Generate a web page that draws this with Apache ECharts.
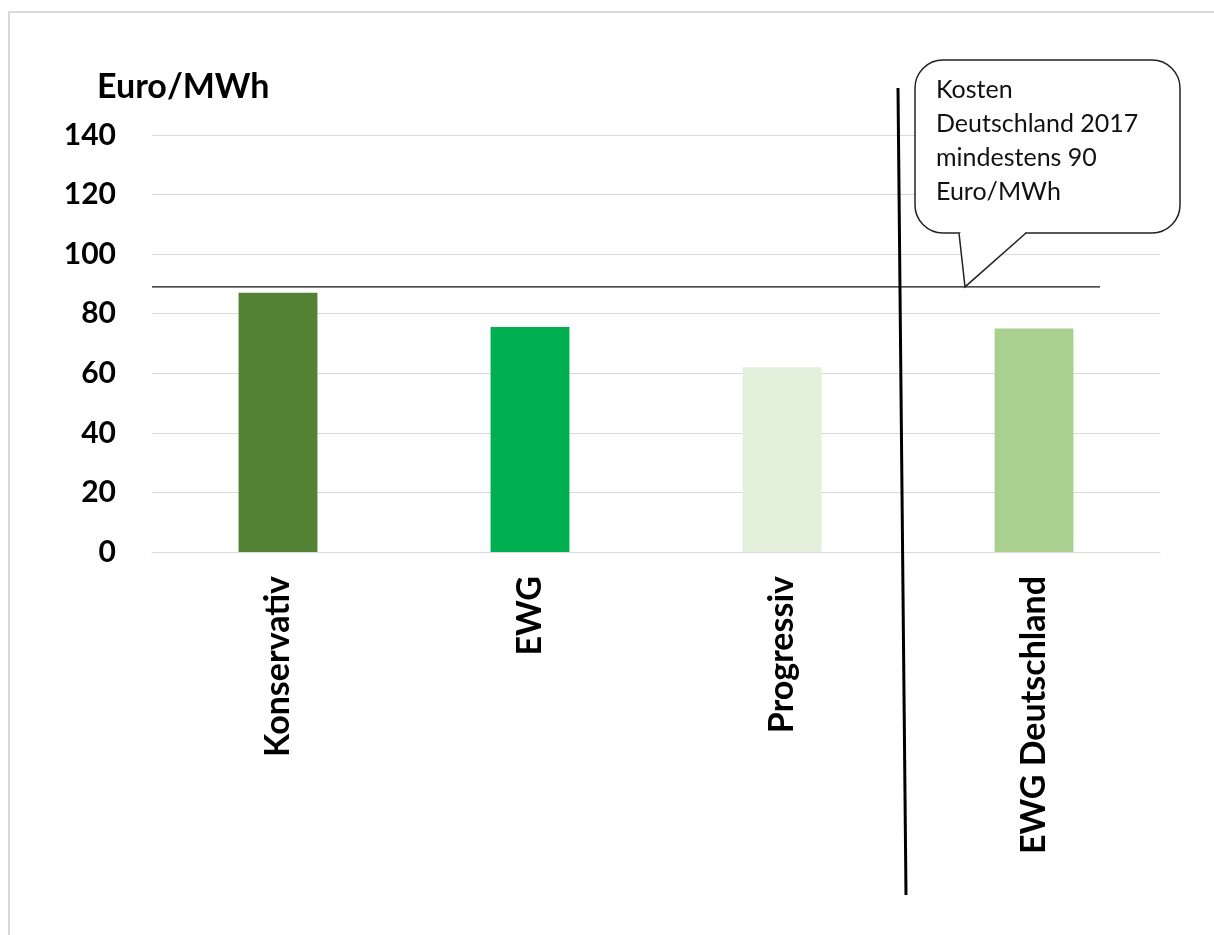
<!DOCTYPE html>
<html>
<head>
<meta charset="utf-8">
<script src="https://cdn.jsdelivr.net/npm/echarts@6/dist/echarts.min.js"></script>
<style>
  html, body { margin: 0; padding: 0; background: #fff; }
  #chart { width: 1214px; height: 935px; }
</style>
</head>
<body>
<div id="chart"></div>
<script>
const categories = ['Konservativ', 'EWG', 'Progressiv', 'EWG Deutschland'];
const values = [87, 75.5, 62, 75];
const barColors = ['#548235', '#00b050', '#e2efda', '#a9d08e'];
const yTicks = [0, 20, 40, 60, 80, 100, 120, 140];
const threshold = 89;
const unitLabel = 'Euro/MWh';
const calloutLines = ['Kosten', 'Deutschland 2017', 'mindestens 90', 'Euro/MWh'];

const FONT = 'Lato, "Open Sans", sans-serif';
const chart = echarts.init(document.getElementById('chart'), null, { renderer: 'canvas' });

chart.setOption({
  animation: false,
  backgroundColor: '#ffffff',
  title: {
    text: unitLabel,
    left: 92, top: 65,
    textStyle: { fontFamily: FONT, fontWeight: 'bold', fontSize: 34, color: '#000' }
  },
  grid: { left: 152, right: 54, top: 135, bottom: 383, containLabel: false },
  xAxis: {
    type: 'category',
    data: categories,
    axisLine: { show: true, lineStyle: { color: '#d9d9d9', width: 1 } },
    axisTick: { show: false },
    axisLabel: {
      rotate: 90, margin: 24, interval: 0,
      fontFamily: FONT, fontWeight: 'bold', fontSize: 34, color: '#000'
    }
  },
  yAxis: {
    type: 'value',
    min: yTicks[0], max: yTicks[yTicks.length - 1], interval: yTicks[1] - yTicks[0],
    axisLine: { show: false },
    axisTick: { show: false },
    splitLine: { lineStyle: { color: '#d9d9d9', width: 1 } },
    axisLabel: {
      margin: 36,
      fontFamily: FONT, fontWeight: 'bold', fontSize: 30, color: '#000'
    }
  },
  series: [{
    type: 'bar',
    data: values.map((v, i) => ({ value: v, itemStyle: { color: barColors[i] } })),
    barWidth: '31.3%'
  }]
});

function drawAnnotations() {
  const y = chart.convertToPixel({ yAxisIndex: 0 }, threshold);
  chart.setOption({
    graphic: [
      // page frame (top and left edges visible)
      { type: 'rect', silent: true, z: 0,
        shape: { x: 9, y: 12, width: 1300, height: 1000 },
        style: { fill: null, stroke: '#d9d9d9', lineWidth: 2 } },
      // threshold line
      { type: 'line', silent: true, z: 10,
        shape: { x1: 152, y1: y, x2: 1100, y2: y },
        style: { stroke: '#111', lineWidth: 1.3 } },
      // separator
      { type: 'line', silent: true, z: 10,
        shape: { x1: 898, y1: 88, x2: 906, y2: 895 },
        style: { stroke: '#000', lineWidth: 3 } },
      // callout bubble body
      { type: 'rect', silent: true, z: 20,
        shape: { x: 915, y: 60, width: 265, height: 173, r: 28 },
        style: { fill: '#fff', stroke: '#222', lineWidth: 1.5 } },
      // erase the body edge where the tail joins
      { type: 'rect', silent: true, z: 21,
        shape: { x: 960.5, y: 230, width: 64.5, height: 5 },
        style: { fill: '#fff' } },
      { type: 'polygon', silent: true, z: 21,
        shape: { points: [[959, 233], [965, y], [1026, 233]] },
        style: { fill: '#fff' } },
      { type: 'polyline', silent: true, z: 22,
        shape: { points: [[959, 233], [965, y], [1026, 233]] },
        style: { fill: null, stroke: '#222', lineWidth: 1.5 } },
      { type: 'text', silent: true, z: 23, left: 936, top: 73,
        style: { text: calloutLines.join('\n'), fontFamily: FONT, fontSize: 25, lineHeight: 34, fill: '#111' } }
    ]
  });
}
drawAnnotations();
</script>
</body>
</html>
